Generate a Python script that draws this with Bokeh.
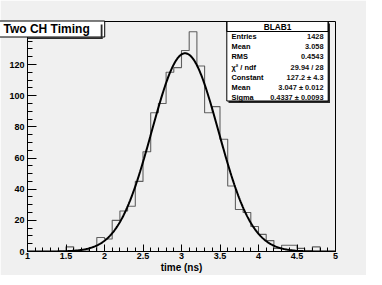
import numpy as np
from bokeh.plotting import figure
from bokeh.models import (Range1d, SingleIntervalTicker, NumeralTickFormatter,
                          BoxAnnotation, Label)
from bokeh.embed import file_html
from bokeh.resources import INLINE

# ---------------- data ----------------
bin_edges = [1.0, 1.1, 1.2, 1.3, 1.4, 1.5, 1.6, 1.7, 1.8, 1.9,
             2.0, 2.1, 2.2, 2.3, 2.4, 2.5, 2.6, 2.7, 2.8, 2.9,
             3.0, 3.1, 3.2, 3.3, 3.4, 3.5, 3.6, 3.7, 3.8, 3.9,
             4.0, 4.1, 4.2, 4.3, 4.4, 4.5, 4.6, 4.7, 4.8, 4.9, 5.0]
counts = [0, 0, 0, 0, 0, 3, 0, 1, 0, 9,
          8, 20, 26, 29, 45, 64, 89, 95, 115, 118,
          129, 141, 119, 89, 93, 72, 42, 27, 25, 16,
          11, 7, 2, 4, 4, 2, 0, 3, 0, 0]

fit_constant = 127.2
fit_mean = 3.047
fit_sigma = 0.4337

title_text = "Two CH Timing"
x_label = "time (ns)"
hidden_y_tick = 140          # covered by the title box in the original
stats_title = "BLAB1"
stat_names = ["Entries", "Mean", "RMS", "\u03c7\u00b2 / ndf", "Constant", "Mean", "Sigma"]
stat_values = ["1428", "3.058", "0.4543", "29.94 / 28", "127.2 \u00b1 4.3",
               "3.047 \u00b1 0.012", "0.4337 \u00b1 0.0093"]

x_start, x_end = 1.0, 5.0
y_start, y_end = 0.0, 147.6

# ---------------- figure ----------------
BG = "#f0f0f0"
FONT = "Liberation Sans"

p = figure(width=366, height=275, output_backend="svg", toolbar_location=None,
           x_range=Range1d(x_start, x_end), y_range=Range1d(y_start, y_end),
           min_border_left=27, min_border_right=31, min_border_top=21,
           min_border_bottom=24)
p.background_fill_color = BG
p.border_fill_color = BG
p.outline_line_color = "black"
p.outline_line_width = 1
p.xgrid.visible = False
p.ygrid.visible = False

# title drawn (with its own white box) into the frame's top-left corner
p.title.text = title_text
p.title.align = "left"
p.title.offset = -32
p.title.standoff = -31
p.title.text_font = FONT
p.title.text_font_style = "bold"
p.title.text_font_size = "12px"
p.title.text_color = "black"
p.title.background_fill_color = "white"
p.title.background_fill_alpha = 1.0
p.title.border_line_color = "black"
p.title.border_line_width = 1
p.title.padding = dict(left=8, right=15, top=1, bottom=1)

# histogram outline
p.step(x=bin_edges, y=counts + [counts[-1]], mode="after",
       line_color="#606060", line_width=1.1)

# gaussian fit
xf = np.linspace(x_start, x_end, 400)
yf = fit_constant * np.exp(-0.5 * ((xf - fit_mean) / fit_sigma) ** 2)
p.line(xf, yf, line_color="black", line_width=2)

# axes
xa = p.xaxis[0]
xa.ticker = SingleIntervalTicker(interval=0.5, num_minor_ticks=5)
xa.formatter = NumeralTickFormatter(format="0.[0]")
xa.major_tick_in = 7
xa.major_tick_out = 0
xa.minor_tick_in = 4
xa.minor_tick_out = 0
xa.major_label_standoff = 1
xa.major_label_text_font = FONT
xa.major_label_text_font_style = "bold"
xa.major_label_text_font_size = "9px"
xa.major_label_text_color = "black"
xa.axis_label = x_label
xa.axis_label_standoff = 0
xa.axis_label_text_font = FONT
xa.axis_label_text_font_style = "bold"
xa.axis_label_text_font_size = "10px"
xa.axis_label_text_color = "black"
xa.axis_line_color = "black"

ya = p.yaxis[0]
ya.ticker = SingleIntervalTicker(interval=20, num_minor_ticks=4)
ya.major_label_overrides = {hidden_y_tick: ""}
ya.major_tick_in = 9
ya.major_tick_out = 0
ya.minor_tick_in = 5
ya.minor_tick_out = 0
ya.major_label_standoff = 3
ya.major_label_text_font = FONT
ya.major_label_text_font_style = "bold"
ya.major_label_text_font_size = "9px"
ya.major_label_text_color = "black"
ya.axis_line_color = "black"

# ---------------- boxes (screen units from frame bottom-left) ----------------
def sbox(l, r, t, b, fill, line, level="overlay"):
    return BoxAnnotation(left=l, right=r, top=t, bottom=b,
                         left_units="screen", right_units="screen",
                         top_units="screen", bottom_units="screen",
                         fill_color=fill, fill_alpha=1.0 if fill else 0.0,
                         line_color=line, line_alpha=1.0 if line else 0.0,
                         line_width=1, level=level)

# title box shadow (right and bottom strips only)
p.add_layout(sbox(73.2, 75, 227, 212.5, "#2a2a2a", None))
p.add_layout(sbox(-29.5, 75, 214.3, 212.5, "#2a2a2a", None))

# stats box + shadow
p.add_layout(sbox(201, 302.5, 228, 148.5, "#2a2a2a", None))
p.add_layout(sbox(199.3, 300.7, 230, 150.5, "white", "black"))
p.add_layout(sbox(199.3, 300.7, 230, 220, None, "black"))
p.add_layout(Label(x=250, y=224.8, x_units="screen", y_units="screen",
                   text=stats_title, text_font=FONT, text_font_style="bold",
                   text_font_size="8.3px", text_baseline="middle",
                   text_align="center", text_color="black", level="overlay"))
row_y = [215, 204.7, 194.6, 184.5, 174.4, 164.2, 154.4]
for name, val, yy in zip(stat_names, stat_values, row_y):
    p.add_layout(Label(x=204, y=yy, x_units="screen", y_units="screen",
                       text=name, text_font=FONT, text_font_size="7.4px",
                       text_font_style="bold",
                       text_baseline="middle", text_align="left",
                       text_color="black", level="overlay"))
    p.add_layout(Label(x=296, y=yy, x_units="screen", y_units="screen",
                       text=val, text_font=FONT, text_font_size="7.4px",
                       text_font_style="bold",
                       text_baseline="middle", text_align="right",
                       text_color="#111111", level="overlay"))

open("out.html", "w").write(file_html(p, INLINE))
